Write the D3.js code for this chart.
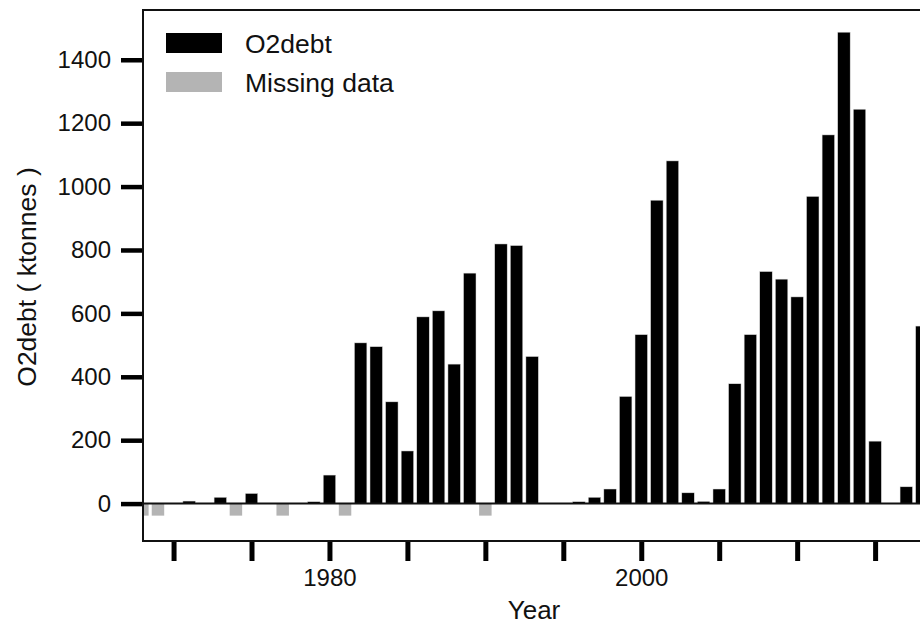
<!DOCTYPE html>
<html>
<head>
<meta charset="utf-8">
<script src="https://cdn.jsdelivr.net/npm/d3@7"></script>
<style>
    body { margin: 0; background: #fff; }
    text { font-family: "Liberation Sans", Arial, sans-serif; fill: #111; }
</style>
</head>
<body>
<svg width="920" height="624"></svg>
<script>
// data
const years = d3.range(1968, 2019);
const o2debt = [
    null, null, 0, 8, 0, 20, null, 32, 0, null,
    0, 6, 90, null, 507, 495, 321, 166, 589, 608,
    440, 727, null, 819, 814, 464, 0, 0, 6, 20,
    46, 338, 533, 957, 1081, 34, 7, 46, 378, 533,
    732, 708, 652, 969, 1163, 1487, 1244, 197, 0, 53,
    560,
];
const missingYears = [1968, 1969, 1974, 1977, 1981, 1990];
const missingValue = -38;
const yTicks = [0, 200, 400, 600, 800, 1000, 1200, 1400];
const xTicks = [1970, 1975, 1980, 1985, 1990, 1995, 2000, 2005, 2010, 2015];
const xLabelYears = [1980, 2000];
const legendItems = ["O2debt", "Missing data"];

const BLACK = "#000";
const GREY = "#b4b4b4";

var svg = d3.select("svg");
var plotLeft = 143, plotTop = 10, plotRight = 925, plotBottom = 541;

var xScale = d3.scaleLinear().domain([1968.04, 2018.2]).range([plotLeft, plotRight]);
var yScale = d3.scaleLinear().domain([-118, 1557]).range([plotBottom, plotTop]);
var barW = xScale(1968.8) - xScale(1968);

svg.append("clipPath")
    .attr("id", "plotclip")
    .append("rect")
    .attr("x", plotLeft)
    .attr("y", plotTop)
    .attr("width", plotRight - plotLeft)
    .attr("height", plotBottom - plotTop);

var plot = svg.append("g").attr("clip-path", "url(#plotclip)");

// missing data markers
plot.selectAll(".missing")
    .data(missingYears)
    .enter()
    .append("rect")
    .attr("class", "missing")
    .attr("x", d => xScale(d) - barW / 2)
    .attr("y", yScale(0))
    .attr("width", barW)
    .attr("height", yScale(missingValue) - yScale(0))
    .style("fill", GREY);

// bars
var barData = years
    .map((y, i) => [y, o2debt[i]])
    .filter(d => d[1] !== null && d[1] > 0);

plot.selectAll(".bar")
    .data(barData)
    .enter()
    .append("rect")
    .attr("class", "bar")
    .attr("x", d => xScale(d[0]) - barW / 2)
    .attr("y", d => yScale(d[1]))
    .attr("width", barW)
    .attr("height", d => yScale(0) - yScale(d[1]))
    .style("fill", BLACK)
    .style("stroke", "#ddd")
    .style("stroke-width", 0.5);

// zero line
svg.append("line")
    .attr("x1", plotLeft)
    .attr("x2", plotRight)
    .attr("y1", yScale(0))
    .attr("y2", yScale(0))
    .style("stroke", "#111")
    .style("stroke-width", 2);

// axes
var yAxis = svg.append("g")
    .attr("transform", "translate(" + plotLeft + ",0)")
    .call(d3.axisLeft(yScale).tickValues(yTicks).tickSize(22).tickPadding(10)
        .tickFormat(d3.format("d")));

var xAxis = svg.append("g")
    .attr("transform", "translate(0," + plotBottom + ")")
    .call(d3.axisBottom(xScale).tickValues(xTicks).tickSize(20).tickPadding(8)
        .tickFormat(d => (xLabelYears.includes(d) ? String(d) : "")));

[yAxis, xAxis].forEach(a => {
    a.select(".domain").remove();
    a.selectAll("text")
        .style("font-size", "24px")
        .style("fill", "#111")
        .style("font-family", "Liberation Sans, Arial, sans-serif");
});
yAxis.selectAll("line").style("stroke", "#000").style("stroke-width", 4.5);
xAxis.selectAll("line").style("stroke", "#000").style("stroke-width", 5);

// frame
svg.append("rect")
    .attr("x", plotLeft)
    .attr("y", plotTop)
    .attr("width", plotRight - plotLeft)
    .attr("height", plotBottom - plotTop)
    .style("fill", "none")
    .style("stroke", "#111")
    .style("stroke-width", 2);

// axis titles
svg.append("text")
    .attr("x", 534)
    .attr("y", 619)
    .attr("text-anchor", "middle")
    .style("font-size", "26px")
    .text("Year");

svg.append("text")
    .attr("text-anchor", "middle")
    .attr("transform", "translate(36," + 277 + ")rotate(-90)")
    .style("font-size", "26.5px")
    .text("O2debt ( ktonnes )");

// legend
var legend = svg.append("g").attr("transform", "translate(166,33)");
legendItems.forEach((name, i) => {
    legend.append("rect")
        .attr("x", 0)
        .attr("y", i * 39)
        .attr("width", 56)
        .attr("height", 20)
        .style("fill", i === 0 ? BLACK : GREY);
    legend.append("text")
        .attr("x", 79)
        .attr("y", i * 39 + 19.5)
        .style("font-size", "26.5px")
        .text(name);
});
</script>
</body>
</html>
